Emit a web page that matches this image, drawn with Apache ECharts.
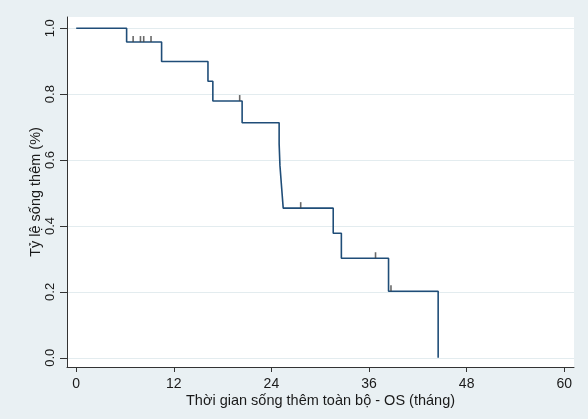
<!DOCTYPE html>
<html>
<head>
<meta charset="utf-8">
<script src="https://cdn.jsdelivr.net/npm/echarts@6/dist/echarts.min.js"></script>
<style>
html,body{margin:0;padding:0;background:#e9f0f3;}
#chart{width:588px;height:419px;}
</style>
</head>
<body>
<div id="chart"></div>
<script>
// Kaplan-Meier step points (time in months, survival proportion)
var eventTimes = [0, 6.2, 10.5, 16.2, 16.8, 20.4, 24.95, 25.05, 25.25, 25.45, 31.6, 32.6, 38.4, 44.5];
var survival   = [1.0, 0.958, 0.899, 0.839, 0.779, 0.713, 0.649, 0.583, 0.518, 0.454, 0.378, 0.302, 0.202, 0.0];
// Censored observations
var censorTimes = [7.0, 7.9, 8.3, 9.2, 20.1, 27.6, 36.8, 38.7];
var censorSurv  = [0.958, 0.958, 0.958, 0.958, 0.779, 0.454, 0.302, 0.202];
// Tick labels
var xTicks = [0, 12, 24, 36, 48, 60];
var yTicks = [0, 0.2, 0.4, 0.6, 0.8, 1.0];
var xTitle = 'Thời gian sống thêm toàn bộ - OS (tháng)';
var yTitle = 'Tỷ lệ sống thêm (%)';

var kmData = eventTimes.map(function (t, i) { return [t, survival[i]]; });
var censorData = censorTimes.map(function (t, i) { return [t, censorSurv[i]]; });

var chart = echarts.init(document.getElementById('chart'), null, {renderer: 'canvas'});
var font = 'Liberation Sans, Arial, sans-serif';
chart.setOption({
  animation: false,
  backgroundColor: '#e9f0f3',
  grid: {left: 67, right: 14, top: 17, bottom: 52, show: true, backgroundColor: '#ffffff', borderWidth: 0},
  xAxis: {
    type: 'value', min: -1.13, max: 61.2,
    name: xTitle, nameLocation: 'middle', nameGap: 26, nameMoveOverlap: false,
    nameTextStyle: {fontFamily: font, fontSize: 14.5, color: '#1a1a1a'},
    axisLine: {show: true, onZero: false, lineStyle: {color: '#333', width: 1}},
    axisTick: {show: true, length: 5, customValues: xTicks, lineStyle: {color: '#333'}},
    axisLabel: {customValues: xTicks, margin: 10, fontFamily: font, fontSize: 14, color: '#1a1a1a'},
    splitLine: {show: false}
  },
  yAxis: {
    type: 'value', min: -0.028, max: 1.034,
    name: yTitle, nameLocation: 'middle', nameGap: 24, nameRotate: 90, nameMoveOverlap: false,
    nameTextStyle: {fontFamily: font, fontSize: 14.5, color: '#1a1a1a'},
    axisLine: {show: true, onZero: false, lineStyle: {color: '#333', width: 1}},
    axisTick: {show: true, length: 7, customValues: yTicks, lineStyle: {color: '#333'}},
    axisLabel: {customValues: yTicks, rotate: 90, margin: 10, fontFamily: font, fontSize: 13, color: '#1a1a1a',
      formatter: function (v) { return v.toFixed(1); }},
    splitLine: {show: true, lineStyle: {color: '#e3ecef', width: 1}}
  },
  series: [
    {
      type: 'line', step: 'end', data: kmData, showSymbol: false, symbol: 'none',
      lineStyle: {color: '#1f4d78', width: 1.6}, z: 3
    },
    {
      type: 'scatter', data: censorData, symbol: 'rect', symbolSize: [1.6, 6], symbolOffset: [0, -3],
      itemStyle: {color: '#444'}, z: 4
    }
  ]
});
</script>
</body>
</html>
